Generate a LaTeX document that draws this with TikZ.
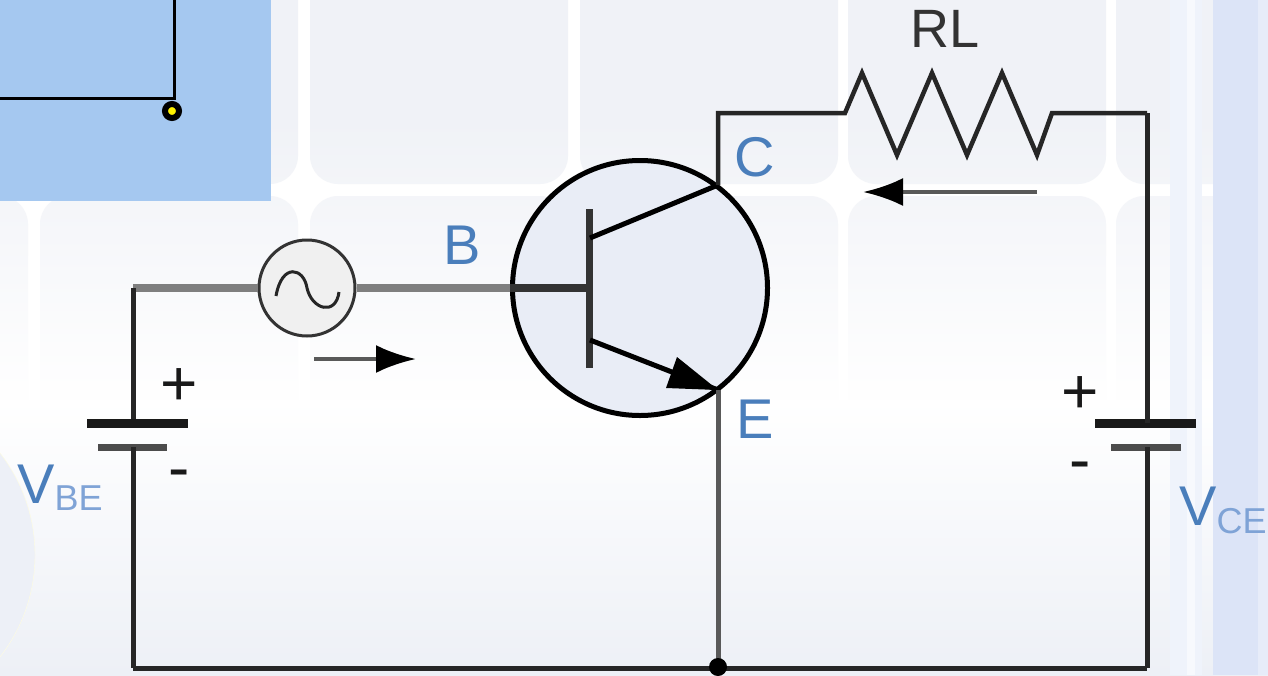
\documentclass[tikz,border=0pt]{standalone}
\usepackage{fontspec}
\setmainfont{Liberation Sans}
\usetikzlibrary{arrows.meta}
\usetikzlibrary{fadings}
\definecolor{tilecol}{HTML}{F0F2F7}
\definecolor{floorcol}{HTML}{EDF0F6}
\definecolor{labelblue}{HTML}{4A7EBB}
\definecolor{sublabelblue}{HTML}{7FA3D6}
\definecolor{boxblue}{HTML}{A5C8F0}
\definecolor{wiregray}{HTML}{7F7F7F}
\definecolor{stripecol}{HTML}{DCE4F7}
\definecolor{bulbcol}{HTML}{E9EDF6}
\definecolor{sealcol}{HTML}{EDF0F7}
\tikzfading[name=rowfade,top color=transparent!100,bottom color=transparent!0]
\tikzset{
    tile/.style={rounded corners=28pt,fill=tilecol},
    wire/.style={line width=5pt,draw=black!85},
    graywire/.style={line width=8pt,draw=wiregray},
    plate/.style={line width=9pt,draw=black!90},
    lowplate/.style={line width=7pt,draw=black!70},
    lead/.style={line width=5pt,draw=black},
    pointer/.style={line width=4pt,draw=black!65,-{Latex[length=40pt,width=28pt,black]}},
    termlabel/.style={text=labelblue,font=\fontsize{56}{56}\selectfont,inner sep=0pt},
    signlabel/.style={text=black!90,font=\fontsize{64}{64}\selectfont,inner sep=0pt},
}
\begin{document}
\begin{tikzpicture}[x=1pt,y=-1pt]
        \useasboundingbox (0,0) rectangle (1268,675);
        % background
        \fill[white] (0,0) rectangle (1268,675);
        \foreach \x in {-230,40,310,580,848,1116} {
            \fill[tile] (\x,-60) rectangle +(258,244);
            \fill[tile] (\x,196) rectangle +(258,260);
        }
        \fill[white,path fading=rowfade] (0,110) rectangle (1268,400);
        \fill[top color=white,bottom color=floorcol] (0,400) rectangle (1268,675);
        \fill[stripecol!45!white] (1170,0) rectangle (1202,675);
        \fill[white,opacity=0.5] (1187,0) rectangle (1195,675);
        \fill[stripecol] (1213,0) rectangle (1258,675);
        \fill[stripecol!70!white] (1258,0) rectangle (1268,675);
        \fill[sealcol,draw=yellow!12] (-131,555) circle (166);
        % box in the corner
        \fill[boxblue] (0,0) rectangle (271,201);
        \coordinate (boxleft) at (0,98);
        \coordinate (boxcorner) at (174,98);
        \coordinate (boxtop) at (174,0);
        \draw[line width=3pt] (boxleft) -- (boxcorner) -- (boxtop);
        \node[circle,draw=black,fill=yellow,line width=6pt,minimum size=14pt,inner sep=0pt] (probe) at (172,111) {};
        % corners
        \coordinate (tl) at (133,288);
        \coordinate (bl) at (133,668);
        \coordinate (bm) at (718,667);
        \coordinate (br) at (1147,668);
        \coordinate (tr) at (1147,113);
        \coordinate (cc) at (718,113);
        % transistor
        \node[circle,draw=black,fill=bulbcol,line width=5pt,minimum size=255pt,inner sep=0pt] (bjt) at (640,288) {};
        \coordinate (bar) at (589,288);
        \coordinate (bartop) at (589,209);
        \coordinate (barbot) at (589,368);
        \coordinate (coll) at (718,185);
        \coordinate (emit) at (718,390);
        \draw[line width=7pt,draw=black!80] (bartop) -- (barbot);
        \draw[lead] (590,238) -- (coll);
        \draw[lead] (590,340) -- (emit);
        \fill (emit) -- (666,388) -- (677,357) -- cycle;
        \draw[line width=8pt,draw=black!80] (bjt.west) -- (bar);
        % source
        \node[circle,draw=black!80,fill=black!6,line width=3pt,minimum size=96pt,inner sep=0pt] (src) at (307,288) {};
        \draw[line width=3pt,black!85] (276,296) .. controls (282,262) and (304,268) .. (307,288) .. controls (312,310) and (336,316) .. (339,292);
        % base wire
        \draw[graywire] (tl) -- (src);
        \draw[graywire] (src) -- (bjt.west);
        % left battery
        \coordinate (vbetop) at (133,423);
        \coordinate (vbebot) at (133,447);
        \draw[wire] (tl) -- (vbetop);
        \draw[plate] (87,423) -- (188,423);
        \draw[lowplate] (98,447) -- (167,447);
        \draw[wire] (vbebot) -- (bl);
        % bottom wire
        \draw[wire] (bl) -- (br);
        \draw[line width=5pt,draw=black!65] (emit) -- (bm);
        \fill (bm) circle (9);
        % right side
        \coordinate (vcetop) at (1147,423);
        \coordinate (vcebot) at (1147,447);
        \draw[plate] (1095,423) -- (1196,423);
        \draw[lowplate] (1111,447) -- (1181,447);
        \draw[wire] (br) -- (vcebot);
        \draw[wire] (vcetop) -- (tr);
        % resistor
        \draw[line width=4.5pt,black!85,line join=miter] (coll) -- (cc) -- (845,113) -- (862,73) -- (897,155) -- (932,73) -- (967,155) -- (1002,73) -- (1037,155) -- (1052,113) -- (tr);
        % current arrows
        \coordinate (ibs) at (314,359);
        \coordinate (ibe) at (416,359);
        \coordinate (ics) at (1037,192);
        \coordinate (ice) at (863,192);
        \draw[pointer] (ibs) -- (ibe);
        \draw[pointer] (ics) -- (ice);
        % labels
        \node[termlabel] (lblb) at (462,245) {B};
        \node[termlabel] (lblc) at (755,157) {C};
        \node[termlabel] (lble) at (755,419) {E};
        \node[text=black!80,font=\fontsize{54}{54}\selectfont,inner sep=0pt] (lblrl) at (945,29) {RL};
        \node[termlabel,anchor=base west] (lblvbe) at (17,503) {V\raisebox{-7pt}{\fontsize{36}{36}\selectfont\color{sublabelblue}BE}};
        \node[termlabel,anchor=base west] (lblvce) at (1179,525) {V\raisebox{-8pt}{\fontsize{36}{36}\selectfont\color{sublabelblue}CE}};
        \node[signlabel] (plusl) at (179,387) {+};
        \node[signlabel] (minusl) at (179,480) {-};
        \node[signlabel] (plusr) at (1080,395) {+};
        \node[signlabel] (minusr) at (1080,472) {-};
\end{tikzpicture}
\end{document}
